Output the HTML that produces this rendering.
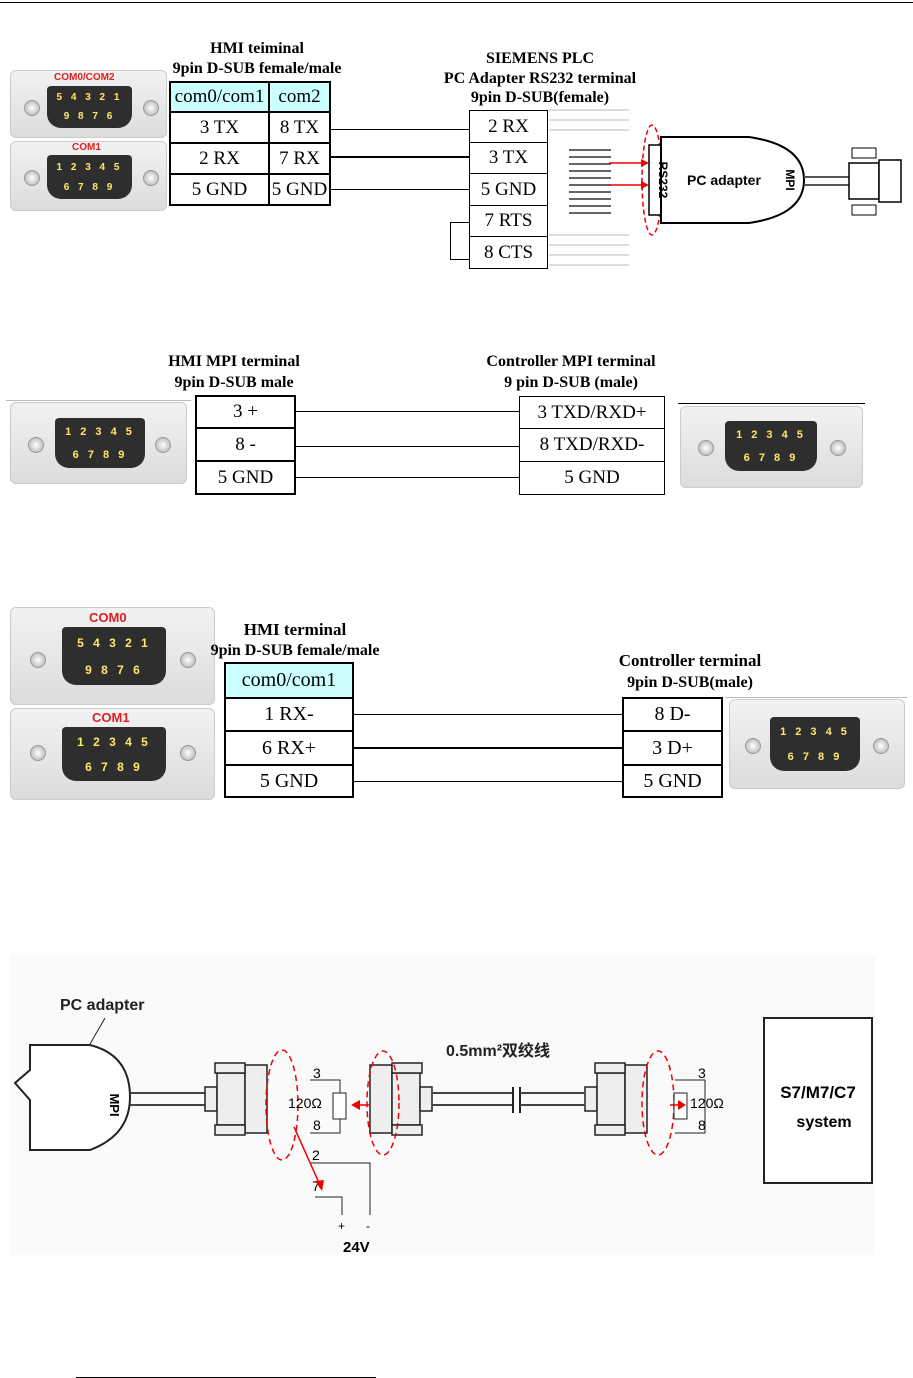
<!DOCTYPE html>
<html><head><meta charset="utf-8"><style>
body{margin:0;width:913px;height:1378px;position:relative;background:#fff;font-family:"Liberation Serif",serif;overflow:hidden}
.a{position:absolute}
.lbl{position:absolute;font-weight:bold;font-size:16px;text-align:center;white-space:nowrap;transform:translateX(-50%)}
.c{position:absolute;border:2px solid #000;box-sizing:border-box;font-size:19px;display:flex;align-items:center;justify-content:center;background:#fff}
.conn{position:absolute;background:linear-gradient(#f2f2f2,#dcdcdc);border-radius:6px;box-shadow:inset 0 0 0 1px #ccc}
.d{position:absolute;background:#2e2e2e;border-radius:4px 4px 14px 14px;color:#ffe86a;font:bold 10px "Liberation Sans",sans-serif;display:flex;flex-direction:column;align-items:center;justify-content:space-around;padding:2px 0;box-sizing:border-box;white-space:pre;letter-spacing:3px}
.sc{position:absolute;width:14px;height:14px;border-radius:50%;background:radial-gradient(#fff,#aaa);border:1px solid #999}
.h{position:absolute;height:0;border-top:1px solid #000}
.h2{position:absolute;height:0;border-top:2px solid #000}
.cl{position:absolute;font:bold 12px "Liberation Sans",sans-serif;color:#e02020}
</style></head><body>
<div class="h" style="left:0;top:2px;width:913px"></div>

<!-- Section 1 -->
<div class="lbl" style="left:257px;top:40px">HMI teiminal</div>
<div class="lbl" style="left:257px;top:60px">9pin D-SUB female/male</div>
<div class="lbl" style="left:540px;top:50px">SIEMENS PLC</div>
<div class="lbl" style="left:540px;top:70px">PC Adapter RS232 terminal</div>
<div class="lbl" style="left:540px;top:89px">9pin D-SUB(female)</div>

<div class="conn" style="left:10px;top:70px;width:157px;height:68px"></div>
<div class="cl" style="left:54px;top:72px;font-size:10px">COM0/COM2</div>
<div class="d" style="left:47px;top:86px;width:85px;height:42px"><span>5 4 3 2 1</span><span>9 8 7 6</span></div>
<div class="sc" style="left:24px;top:100px"></div><div class="sc" style="left:143px;top:100px"></div>
<div class="conn" style="left:10px;top:141px;width:157px;height:70px"></div>
<div class="cl" style="left:72px;top:142px;font-size:10px">COM1</div>
<div class="d" style="left:47px;top:155px;width:85px;height:44px"><span>1 2 3 4 5</span><span>6 7 8 9</span></div>
<div class="sc" style="left:24px;top:170px"></div><div class="sc" style="left:143px;top:170px"></div>

<div class="c" style="left:169px;top:81px;width:101px;height:32px;background:#ccffff">com0/com1</div>
<div class="c" style="left:268px;top:81px;width:63px;height:32px;background:#ccffff">com2</div>
<div class="c" style="left:169px;top:111px;width:101px;height:33px">3 TX</div>
<div class="c" style="left:268px;top:111px;width:63px;height:33px">8 TX</div>
<div class="c" style="left:169px;top:142px;width:101px;height:33px">2 RX</div>
<div class="c" style="left:268px;top:142px;width:63px;height:33px">7 RX</div>
<div class="c" style="left:169px;top:173px;width:101px;height:33px">5 GND</div>
<div class="c" style="left:268px;top:173px;width:63px;height:33px">5 GND</div>

<div class="h" style="left:331px;top:129px;width:138px"></div>
<div class="h2" style="left:331px;top:156px;width:138px"></div>
<div class="h" style="left:331px;top:189px;width:138px"></div>

<div class="c" style="left:469px;top:110px;width:79px;height:33px;border-width:1px">2 RX</div>
<div class="c" style="left:469px;top:142px;width:79px;height:32px;border-width:1px">3 TX</div>
<div class="c" style="left:469px;top:173px;width:79px;height:33px;border-width:1px">5 GND</div>
<div class="c" style="left:469px;top:205px;width:79px;height:32px;border-width:1px">7 RTS</div>
<div class="c" style="left:469px;top:236px;width:79px;height:33px;border-width:1px">8 CTS</div>
<div class="a" style="left:450px;top:222px;width:19px;height:36px;border:1px solid #000;border-right:none"></div>

<svg class="a" style="left:549px;top:105px" width="360" height="170">
 <g stroke="#bbb" stroke-width="1">
  <line x1="0" y1="5" x2="80" y2="5"/><line x1="0" y1="15" x2="80" y2="15"/><line x1="0" y1="25" x2="80" y2="25"/>
  <line x1="0" y1="130" x2="80" y2="130"/><line x1="0" y1="140" x2="80" y2="140"/><line x1="0" y1="150" x2="80" y2="150"/><line x1="0" y1="160" x2="80" y2="160"/>
 </g>
 <g stroke="#333" stroke-width="1.5">
  <line x1="20" y1="45" x2="62" y2="45"/><line x1="20" y1="52" x2="62" y2="52"/><line x1="20" y1="59" x2="62" y2="59"/><line x1="20" y1="66" x2="62" y2="66"/>
  <line x1="20" y1="73" x2="62" y2="73"/><line x1="20" y1="80" x2="62" y2="80"/><line x1="20" y1="87" x2="62" y2="87"/><line x1="20" y1="94" x2="62" y2="94"/><line x1="20" y1="101" x2="62" y2="101"/><line x1="20" y1="108" x2="62" y2="108"/>
 </g>
 <ellipse cx="103" cy="75" rx="10" ry="55" fill="none" stroke="#e00" stroke-dasharray="5,3" stroke-width="1.5"/>
 <line x1="60" y1="58" x2="96" y2="58" stroke="#e00" stroke-width="1.5"/><polygon points="100,58 92,54 92,62" fill="#e00"/>
 <line x1="60" y1="80" x2="96" y2="80" stroke="#e00" stroke-width="1.5"/><polygon points="100,80 92,76 92,84" fill="#e00"/>
 <rect x="100" y="40" width="12" height="70" fill="#fff" stroke="#000" stroke-width="1.5"/>
 <path d="M112,32 L200,32 Q255,40 255,75 Q255,110 200,118 L112,118 Z" fill="#fff" stroke="#000" stroke-width="2"/>
 <text x="110" y="75" font-family="Liberation Sans" font-weight="bold" font-size="12" transform="rotate(90 110 75)" text-anchor="middle">RS232</text>
 <text x="138" y="80" font-family="Liberation Sans" font-weight="bold" font-size="14">PC adapter</text>
 <text x="237" y="75" font-family="Liberation Sans" font-weight="bold" font-size="12" transform="rotate(90 237 75)" text-anchor="middle">MPI</text>
 <line x1="255" y1="72" x2="300" y2="72" stroke="#555" stroke-width="2"/><line x1="255" y1="80" x2="300" y2="80" stroke="#555" stroke-width="2"/>
 <rect x="300" y="58" width="30" height="36" fill="#fff" stroke="#000" stroke-width="1.5"/>
 <rect x="303" y="43" width="24" height="10" fill="#fff" stroke="#000"/><rect x="303" y="100" width="24" height="10" fill="#fff" stroke="#000"/>
 <rect x="330" y="55" width="22" height="42" fill="#fff" stroke="#000" stroke-width="1.5"/>
</svg>

<!-- Section 2 -->
<div class="lbl" style="left:234px;top:353px">HMI MPI terminal</div>
<div class="lbl" style="left:234px;top:374px">9pin D-SUB male</div>
<div class="lbl" style="left:571px;top:353px">Controller MPI terminal</div>
<div class="lbl" style="left:571px;top:374px">9 pin D-SUB (male)</div>
<div class="h" style="left:6px;top:400px;width:185px;border-color:#bbb"></div>
<div class="conn" style="left:10px;top:402px;width:177px;height:82px"></div>
<div class="d" style="left:55px;top:418px;width:90px;height:50px;font-size:11px"><span>1 2 3 4 5</span><span>6 7 8 9</span></div>
<div class="sc" style="left:28px;top:437px"></div><div class="sc" style="left:155px;top:437px"></div>
<div class="c" style="left:195px;top:395px;width:101px;height:34px">3 +</div>
<div class="c" style="left:195px;top:427px;width:101px;height:35px">8 -</div>
<div class="c" style="left:195px;top:460px;width:101px;height:35px">5 GND</div>
<div class="h" style="left:296px;top:411px;width:223px"></div>
<div class="h" style="left:296px;top:446px;width:223px"></div>
<div class="h" style="left:296px;top:477px;width:223px"></div>
<div class="c" style="left:519px;top:396px;width:146px;height:34px;border-width:1px">3 TXD/RXD+</div>
<div class="c" style="left:519px;top:428px;width:146px;height:34px;border-width:1px">8 TXD/RXD-</div>
<div class="c" style="left:519px;top:461px;width:146px;height:34px;border-width:1px">5 GND</div>
<div class="h" style="left:678px;top:403px;width:187px"></div>
<div class="conn" style="left:680px;top:406px;width:183px;height:82px"></div>
<div class="d" style="left:725px;top:421px;width:92px;height:50px;font-size:11px"><span>1 2 3 4 5</span><span>6 7 8 9</span></div>
<div class="sc" style="left:698px;top:440px"></div><div class="sc" style="left:830px;top:440px"></div>

<!-- Section 3 -->
<div class="conn" style="left:10px;top:607px;width:205px;height:98px"></div>
<div class="cl" style="left:89px;top:610px;font-size:13px">COM0</div>
<div class="d" style="left:62px;top:627px;width:104px;height:58px;font-size:12px"><span>5 4 3 2 1</span><span>9 8 7 6</span></div>
<div class="sc" style="left:30px;top:652px"></div><div class="sc" style="left:180px;top:652px"></div>
<div class="conn" style="left:10px;top:708px;width:205px;height:92px"></div>
<div class="cl" style="left:92px;top:710px;font-size:13px">COM1</div>
<div class="d" style="left:62px;top:727px;width:104px;height:54px;font-size:12px"><span>1 2 3 4 5</span><span>6 7 8 9</span></div>
<div class="sc" style="left:30px;top:745px"></div><div class="sc" style="left:180px;top:745px"></div>
<div class="lbl" style="left:295px;top:620px;font-size:17px">HMI terminal</div>
<div class="lbl" style="left:295px;top:642px;font-size:16px">9pin D-SUB female/male</div>
<div class="lbl" style="left:690px;top:651px;font-size:17px">Controller terminal</div>
<div class="lbl" style="left:690px;top:674px;font-size:16px">9pin D-SUB(male)</div>
<div class="c" style="left:224px;top:662px;width:130px;height:37px;background:#ccffff;font-size:20px">com0/com1</div>
<div class="c" style="left:224px;top:697px;width:130px;height:35px;font-size:20px">1 RX-</div>
<div class="c" style="left:224px;top:730px;width:130px;height:36px;font-size:20px">6 RX+</div>
<div class="c" style="left:224px;top:764px;width:130px;height:34px;font-size:20px">5 GND</div>
<div class="h" style="left:354px;top:714px;width:268px"></div>
<div class="h2" style="left:354px;top:747px;width:268px"></div>
<div class="h" style="left:354px;top:781px;width:268px"></div>
<div class="c" style="left:622px;top:697px;width:101px;height:35px;font-size:20px">8 D-</div>
<div class="c" style="left:622px;top:730px;width:101px;height:36px;font-size:20px">3 D+</div>
<div class="c" style="left:622px;top:764px;width:101px;height:34px;font-size:20px">5 GND</div>
<div class="h" style="left:725px;top:697px;width:182px;border-color:#bbb"></div>
<div class="conn" style="left:729px;top:699px;width:176px;height:90px"></div>
<div class="d" style="left:770px;top:717px;width:90px;height:54px;font-size:11px"><span>1 2 3 4 5</span><span>6 7 8 9</span></div>
<div class="sc" style="left:745px;top:738px"></div><div class="sc" style="left:873px;top:738px"></div>

<!-- Section 4 -->
<div class="a" style="left:10px;top:955px;width:865px;height:300px;background:#fafafa"></div>
<svg class="a" style="left:10px;top:955px" width="870" height="300" font-family="Liberation Sans, Noto Sans CJK SC, sans-serif">
 <text x="50" y="55" font-size="16" font-weight="bold" fill="#222">PC adapter</text>
 <line x1="95" y1="63" x2="65" y2="115" stroke="#222"/>
 <path d="M20,90 L20,115 L5,128 L20,145 L20,195 L80,195 Q120,180 120,142 Q120,100 80,90 Z" fill="#fff" stroke="#222" stroke-width="2"/>
 <text x="100" y="150" font-size="13" font-weight="bold" transform="rotate(90 100 150)" text-anchor="middle">MPI</text>
 <line x1="120" y1="138" x2="200" y2="138" stroke="#444" stroke-width="2"/><line x1="120" y1="150" x2="200" y2="150" stroke="#444" stroke-width="2"/>
 <g fill="#eee" stroke="#222" stroke-width="1.5">
  <rect x="195" y="132" width="12" height="24"/><rect x="207" y="118" width="28" height="52"/><rect x="235" y="110" width="22" height="68"/>
  <rect x="205" y="108" width="30" height="10"/><rect x="205" y="170" width="30" height="10"/>
  <rect x="360" y="110" width="22" height="68"/><rect x="382" y="118" width="28" height="52"/><rect x="410" y="132" width="12" height="24"/>
  <rect x="382" y="108" width="30" height="10"/><rect x="382" y="170" width="30" height="10"/>
  <rect x="575" y="132" width="12" height="24"/><rect x="587" y="118" width="28" height="52"/><rect x="615" y="110" width="22" height="68"/>
  <rect x="585" y="108" width="30" height="10"/><rect x="585" y="170" width="30" height="10"/>
 </g>
 <line x1="422" y1="138" x2="503" y2="138" stroke="#444" stroke-width="2"/><line x1="422" y1="150" x2="503" y2="150" stroke="#444" stroke-width="2"/>
 <line x1="503" y1="132" x2="503" y2="158" stroke="#222" stroke-width="2"/><line x1="510" y1="132" x2="510" y2="158" stroke="#222" stroke-width="2"/>
 <line x1="510" y1="138" x2="575" y2="138" stroke="#444" stroke-width="2"/><line x1="510" y1="150" x2="575" y2="150" stroke="#444" stroke-width="2"/>
 <text x="436" y="101" font-size="16" font-weight="bold" fill="#222">0.5mm²双绞线</text>
 <g fill="none" stroke="#e00" stroke-width="1.5" stroke-dasharray="6,4">
  <ellipse cx="272" cy="150" rx="16" ry="55"/><ellipse cx="373" cy="148" rx="16" ry="52"/><ellipse cx="648" cy="148" rx="16" ry="52"/>
 </g>
 <g stroke="#222" fill="none">
  <polyline points="300,125 330,125 330,178 300,178"/><rect x="323" y="138" width="13" height="26" fill="#fff"/>
  <polyline points="665,125 695,125 695,178 665,178"/><rect x="664" y="138" width="13" height="26" fill="#fff"/>
  <polyline points="300,208 360,208 360,260"/><polyline points="305,242 332,242 332,260"/>
 </g>
 <text x="303" y="123" font-size="14">3</text><text x="303" y="175" font-size="14">8</text><text x="278" y="153" font-size="14">120Ω</text>
 <text x="688" y="123" font-size="14">3</text><text x="688" y="175" font-size="14">8</text><text x="680" y="153" font-size="14">120Ω</text>
 <text x="302" y="205" font-size="14">2</text><text x="302" y="236" font-size="14">7</text>
 <text x="328" y="275" font-size="12">+</text><text x="356" y="275" font-size="12">-</text>
 <text x="333" y="297" font-size="15" font-weight="bold">24V</text>
 <line x1="284" y1="172" x2="310" y2="230" stroke="#e00" stroke-width="1.5"/><polygon points="312,236 305,226 314,225" fill="#e00"/>
 <line x1="360" y1="150" x2="345" y2="150" stroke="#e00" stroke-width="1.5"/><polygon points="341,150 350,145 350,155" fill="#e00"/>
 <line x1="660" y1="150" x2="672" y2="150" stroke="#e00" stroke-width="1.5"/><polygon points="676,150 668,145 668,155" fill="#e00"/>
 <rect x="754" y="63" width="108" height="165" fill="#fff" stroke="#222" stroke-width="2"/>
 <text x="808" y="143" font-size="17" font-weight="bold" text-anchor="middle">S7/M7/C7</text>
 <text x="814" y="172" font-size="16" font-weight="bold" text-anchor="middle">system</text>
</svg>

<div class="h" style="left:76px;top:1377px;width:300px"></div>
</body></html>
